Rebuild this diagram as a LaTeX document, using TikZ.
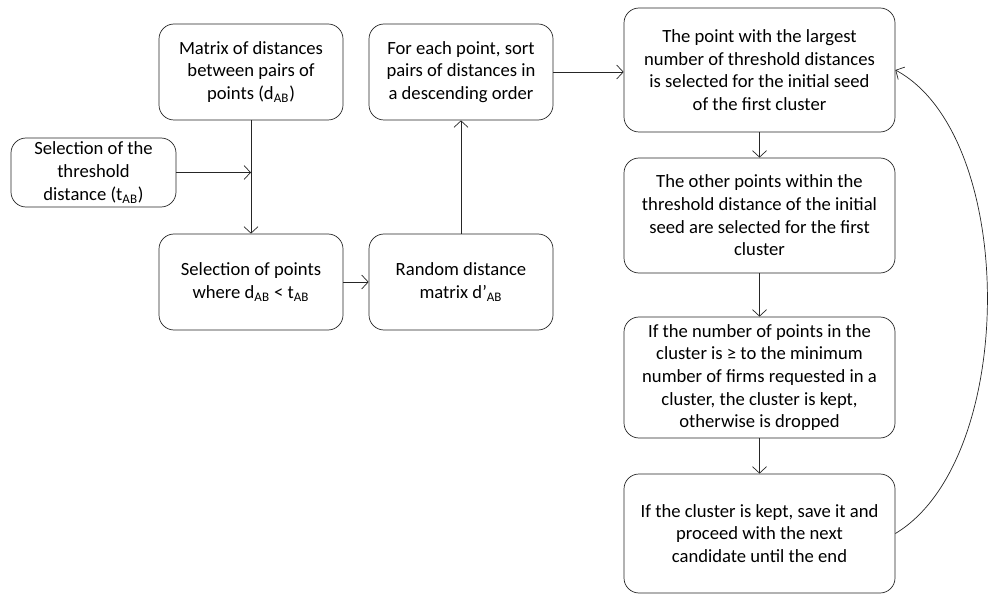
\documentclass[tikz,border=0pt]{standalone}
\usepackage{fontspec}
\setmainfont{Carlito}
\usetikzlibrary{arrows.meta}
\tikzstyle{process} = [rectangle, rounded corners=0.3cm, minimum width=3.68cm, minimum height=1.92cm, align=center, draw=black!85, inner sep=2pt, font=\fontsize{10.6}{12.9}\selectfont]
\tikzstyle{wide} = [process, minimum width=5.42cm]
\tikzstyle{arrow} = [draw=black!85, -{Straight Barb[length=1.3mm, width=2.8mm]}]

\begin{document}
\begin{tikzpicture}[node distance=4.2cm]
    \useasboundingbox (0,0) rectangle (19.78,-11.9);

    \node (matrix) [process] at (5.02,-1.44) {Matrix of distances\\between pairs of\\points (d\textsubscript{AB})};
    \node (threshold) [process, left of=matrix, minimum width=3.3cm, minimum height=1.38cm, xshift=1.05cm, yshift=-2.01cm] {Selection of the\\threshold\\distance (t\textsubscript{AB})};
    \node (points) [process, below of=matrix] {Selection of points\\where d\textsubscript{AB} < t\textsubscript{AB}};
    \node (random) [process, right of=points] {Random distance\\matrix d’\textsubscript{AB}};
    \node (sort) [process, above of=random] {For each point, sort\\pairs of distances in\\a descending order};

    \node (seed) [wide, right of=sort, minimum height=2.48cm, xshift=1.77cm, yshift=0.04cm] {The point with the largest\\number of threshold distances\\is selected for the initial seed\\of the first cluster};
    \node (others) [wide, below of=seed, minimum height=2.3cm, yshift=1.29cm] {The other points within the\\threshold distance of the initial\\seed are selected for the first\\cluster};
    \node (keep) [wide, below of=others, minimum height=2.42cm, yshift=0.96cm] {If the number of points in the\\cluster is ≥ to the minimum\\number of firms requested in a\\cluster, the cluster is kept,\\otherwise is dropped};
    \node (save) [wide, below of=keep, minimum height=2.38cm, yshift=1.08cm] {If the cluster is kept, save it and\\proceed with the next\\candidate until the end};

    \coordinate (join) at (matrix |- threshold);

    \draw [arrow] (matrix) -- (points);
    \draw [arrow] (threshold) -- (join);
    \draw [arrow] (points) -- (random);
    \draw [arrow] (random) -- (sort);
    \draw [arrow] (sort) -- (seed.west |- sort);
    \draw [arrow] (seed) -- (others);
    \draw [arrow] (others) -- (keep);
    \draw [arrow] (keep) -- (save);
    \draw [arrow] (save.east) .. controls (20.36,-9.2) and (20.36,-2.72) .. (seed.east);

\end{tikzpicture}
\end{document}
